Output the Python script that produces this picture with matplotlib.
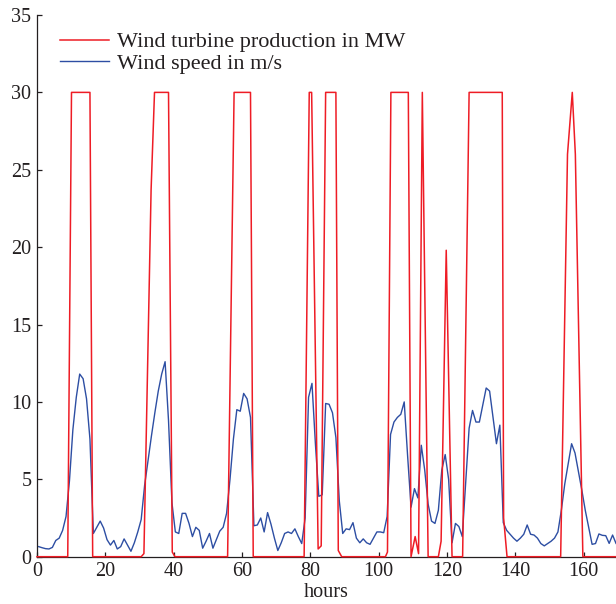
import numpy as np
import matplotlib
matplotlib.use("Agg")
import matplotlib.pyplot as plt

# ---- data ----
# wind speed (m/s), one value per hour, plotted at the middle of each hour
wind_speed = [
    0.65, 0.58, 0.52, 0.50, 0.60, 1.05, 1.20, 1.70, 2.60, 4.90,
    8.20, 10.30, 11.80, 11.50, 10.20, 7.60, 1.50, 1.90, 2.30, 1.85,
    1.10, 0.75, 1.05, 0.50, 0.65, 1.15, 0.75, 0.35, 0.90, 1.60,
    2.40, 4.60, 6.20, 7.80, 9.30, 10.70, 11.80, 12.60, 8.80, 3.50,
    1.60, 1.50, 2.80, 2.80, 2.15, 1.30, 1.90, 1.70, 0.55, 1.00,
    1.50, 0.55, 1.10, 1.65, 1.90, 2.80, 5.00, 7.60, 9.50, 9.40,
    10.55, 10.20, 9.00, 2.00, 2.05, 2.50, 1.60, 2.85, 2.10, 1.20,
    0.40, 0.90, 1.50, 1.60, 1.50, 1.80, 1.30, 0.85, 2.50, 10.30,
    11.20, 7.30, 3.90, 4.00, 9.90, 9.85, 9.30, 7.70, 3.60, 1.50,
    1.80, 1.75, 2.20, 1.20, 0.90, 1.15, 0.90, 0.80, 1.20, 1.60,
    1.60, 1.55, 2.60, 7.90, 8.70, 9.00, 9.20, 10.00, 6.50, 3.20,
    4.40, 3.80, 7.20, 5.60, 3.40, 2.30, 2.15, 3.00, 5.60, 6.60,
    5.00, 0.90, 2.15, 1.95, 1.30, 4.80, 8.30, 9.45, 8.70, 8.70,
    9.80, 10.90, 10.70, 9.00, 7.30, 8.50, 2.20, 1.70, 1.45, 1.20,
    1.00, 1.20, 1.45, 2.05, 1.45, 1.40, 1.20, 0.85, 0.70, 0.85,
    1.00, 1.20, 1.60, 3.00, 4.70, 6.00, 7.30, 6.70, 5.50, 4.30,
    3.00, 1.90, 0.80, 0.85, 1.47, 1.38, 1.36, 0.86, 1.40, 0.86,
]
speed_hours = np.arange(len(wind_speed)) + 0.5

# wind turbine production (MW), read as break points (hour, MW)
prod_hours = [
    0, 9.0, 10.1, 15.5, 16.3,
    30.5, 31.3, 33.4, 34.4, 38.5, 39.6, 40.4,
    55.8, 57.7, 62.5, 63.3,
    78.2, 79.7, 80.4, 82.3, 83.2, 84.5, 87.5, 88.2, 89.2,
    102.0, 102.6, 103.6, 108.7, 109.5, 110.7, 111.7, 112.8, 114.5,
    117.5, 118.3, 119.8, 121.5,
    124.6, 126.5, 136.2, 136.6, 137.6,
    153.3, 155.3, 156.7, 157.6, 159.8, 169.5,
]
prod_mw = [
    0, 0, 30, 30, 0,
    0, 0.2, 23.7, 30, 30, 0.3, 0,
    0, 30, 30, 0,
    0, 30, 30, 0.5, 0.7, 30, 30, 0.4, 0,
    0, 0.3, 30, 30, 0, 1.3, 0.2, 30, 0,
    0, 1.0, 19.8, 0,
    0, 30, 30, 2.5, 0,
    0, 26, 30, 26, 0, 0,
]

x_ticks = [0, 20, 40, 60, 80, 100, 120, 140, 160]
y_ticks = [0, 5, 10, 15, 20, 25, 30, 35]

# ---- plot ----
plt.rcParams['font.family'] = ['Liberation Serif', 'DejaVu Serif']

fig = plt.figure(figsize=(6.16, 6.04), dpi=100)
ax = fig.add_axes([37 / 616, 47.3 / 604, 1 - 37 / 616, 541.7 / 604])

RED = '#ee1c25'
BLUE = '#2d4ea3'

l_blue, = ax.plot(speed_hours, wind_speed, color=BLUE, lw=1.0, zorder=2,
                  label='Wind speed in m/s')
l_red, = ax.plot(prod_hours, prod_mw, color=RED, lw=1.1, zorder=3,
                 clip_on=False, label='Wind turbine production in MW')

ax.set_xlim(0, 169.5)
ax.set_ylim(0, 35)
ax.set_xticks(x_ticks)
ax.set_yticks(y_ticks)
ax.tick_params(direction='in', length=3.8, width=0.9, labelsize=14.5,
               colors='#231f20', pad=4)
for s in ['top', 'right']:
    ax.spines[s].set_visible(False)
for s in ['left', 'bottom']:
    ax.spines[s].set_linewidth(0.9)
    ax.spines[s].set_color('#231f20')

ax.set_xlabel('hours', fontsize=14.5, color='#231f20', labelpad=1)

leg = ax.legend(handles=[l_red, l_blue], loc='upper left',
                bbox_to_anchor=(0.04, 0.969), frameon=False, fontsize=16,
                handlelength=2.2, handletextpad=0.35, labelspacing=0.05,
                borderpad=0, borderaxespad=0)
for t in leg.get_texts():
    t.set_color('#231f20')

fig.savefig('out.png', dpi=100)
